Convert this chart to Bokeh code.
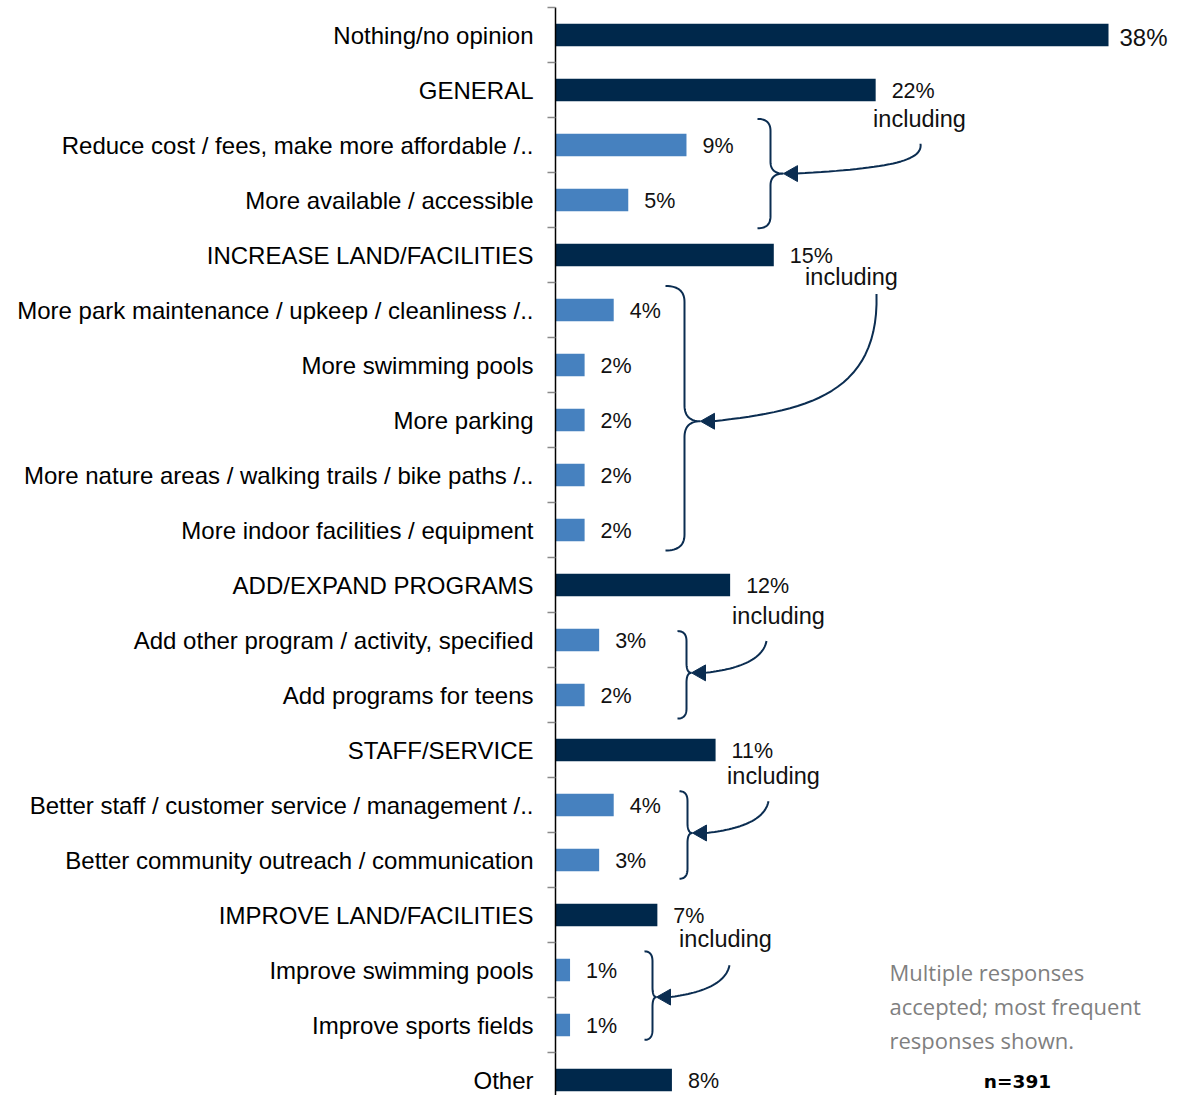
import numpy as np
from bokeh.plotting import figure
from bokeh.models import Range1d, FixedTicker
from bokeh.embed import file_html
from bokeh.resources import INLINE
from bokeh.core.properties import value

# ---------------- data ----------------
categories = [
    "Nothing/no opinion",
    "GENERAL",
    "Reduce cost / fees, make more affordable /..",
    "More available / accessible",
    "INCREASE LAND/FACILITIES",
    "More park maintenance / upkeep / cleanliness /..",
    "More swimming pools",
    "More parking",
    "More nature areas / walking trails / bike paths /..",
    "More indoor facilities / equipment",
    "ADD/EXPAND PROGRAMS",
    "Add other program / activity, specified",
    "Add programs for teens",
    "STAFF/SERVICE",
    "Better staff / customer service / management /..",
    "Better community outreach / communication",
    "IMPROVE LAND/FACILITIES",
    "Improve swimming pools",
    "Improve sports fields",
    "Other",
]
values = [38, 22, 9, 5, 15, 4, 2, 2, 2, 2, 12, 3, 2, 11, 4, 3, 7, 1, 1, 8]
levels = ["main", "main", "sub", "sub", "main", "sub", "sub", "sub", "sub", "sub",
          "main", "sub", "sub", "main", "sub", "sub", "main", "sub", "sub", "main"]
value_labels = [f"{v}%" for v in values]
group_text = "including"
note_lines = ["Multiple responses", "accepted; most frequent", "responses shown."]
sample_label = "n=391"

# ---------------- layout ----------------
DARK = "#00284B"
LIGHT = "#4681BF"
ANN = "#0B2D51"
AXIS_X = 555.0      # canvas x of the value axis
PX_PER = 14.553     # pixels per percentage point
TOP = 7             # frame top (canvas px)
ROW_H = 55.0        # pixels per category row
FIG_W, FIG_H = 1168, 1095
LEFT = int(AXIS_X)
# annotation positions below are measured in the reference's pixel grid
REF_TOP, REF_ROW = 8.0, 55.3


def dx(px):
    return (px - AXIS_X) / PX_PER


def dy(py):
    return (py - REF_TOP) / REF_ROW - 0.5


p = figure(width=FIG_W, height=FIG_H, output_backend="svg", toolbar_location=None,
           x_range=Range1d(0, (FIG_W - LEFT) / PX_PER),
           y_range=Range1d(-0.5 + (FIG_H - TOP) / ROW_H, -0.5),
           x_axis_location=None, min_border_left=LEFT, min_border_right=0,
           min_border_top=TOP, min_border_bottom=0)
p.outline_line_color = None
p.xgrid.visible = False
p.ygrid.visible = False

n = len(categories)
ys = list(range(n))
colors = [DARK if l == "main" else LIGHT for l in levels]
p.hbar(y=ys, right=values, left=0, height=0.41, fill_color=colors, line_color=None)

# value labels
big = [i for i in range(n) if values[i] == max(values)]
rest = [i for i in range(n) if i not in big]
p.text(x=[values[i] for i in rest], y=[ys[i] for i in rest], text=[value_labels[i] for i in rest],
       x_offset=16, y_offset=1, text_align="left", text_baseline="middle",
       text_font=value("Liberation Sans"), text_font_size="21.5px", text_color="#111111")
p.text(x=[values[i] for i in big], y=[ys[i] for i in big], text=[value_labels[i] for i in big],
       x_offset=11, y_offset=2, text_align="left", text_baseline="middle",
       text_font=value("Liberation Sans"), text_font_size="24px", text_color="#111111")

# axis
ax = p.yaxis[0]
ax.ticker = FixedTicker(ticks=ys, minor_ticks=[i - 0.5 for i in range(n + 1)])
ax.major_label_overrides = {i: c for i, c in enumerate(categories)}
ax.major_label_text_font = "Liberation Sans"
ax.major_label_text_font_size = "24px"
ax.major_label_text_color = "#000000"
ax.major_label_standoff = 14
ax.axis_line_color = "#000000"
ax.axis_line_width = 1.5
ax.major_tick_line_color = None
ax.major_tick_out = 0
ax.major_tick_in = 0
ax.minor_tick_line_color = "#8a8a8a"
ax.minor_tick_line_width = 1.5
ax.minor_tick_out = 8
ax.minor_tick_in = 0

# ---------------- braces + arrows ----------------
# (x_end, x_vert, x_cusp, y_top, y_mid, y_bot, radius)
braces = [
    (757, 770, 783, 120, 175, 230, 12),
    (665, 684, 700, 288, 424, 554, 16),
    (677, 686, 691, 635, 677, 723, 10),
    (679, 687, 692, 796, 838, 884, 10),
    (644, 652, 656, 957, 1003, 1046, 10),
]
# arrow bezier: P0, P1, P2, P3 (base of head); tip = brace cusp
arrows = [
    [(920, 145), (923, 164), (880, 170), (796, 175)],
    [(876, 296), (879, 400), (800, 414), (713, 424)],
    [(766, 645), (762, 666), (732, 674), (704, 677)],
    [(768, 806), (764, 827), (734, 835), (705, 838)],
    [(729, 971), (725, 992), (694, 1000), (669, 1003)],
]
including_pos = [(919, 120), (851, 279), (778, 620), (773, 781), (725, 945)]


def quad(p0, c, p1, k=16):
    t = np.linspace(0, 1, k)[:, None]
    a, b, d = np.array(p0), np.array(c), np.array(p1)
    return (1 - t) ** 2 * a + 2 * (1 - t) * t * b + t ** 2 * d


def cubic(p0, p1, p2, p3, k=30):
    t = np.linspace(0, 1, k)[:, None]
    a, b, c, d = map(np.array, (p0, p1, p2, p3))
    return (1 - t) ** 3 * a + 3 * (1 - t) ** 2 * t * b + 3 * (1 - t) * t ** 2 * c + t ** 3 * d


bx, by = [], []
for (xe, xv, xc, yt, ym, yb, r) in braces:
    pts = np.vstack([
        quad((xe, yt), (xv, yt), (xv, yt + r)),
        quad((xv, ym - r), (xv, ym), (xc, ym)),
        quad((xc, ym), (xv, ym), (xv, ym + r)),
        quad((xv, yb - r), (xv, yb), (xe, yb)),
    ])
    bx.append([dx(v) for v in pts[:, 0]])
    by.append([dy(v) for v in pts[:, 1]])
p.multi_line(bx, by, line_color=ANN, line_width=2)

ax_, ay_, hx, hy = [], [], [], []
for arr, br in zip(arrows, braces):
    pts = cubic(*arr)
    ax_.append([dx(v) for v in pts[:, 0]])
    ay_.append([dy(v) for v in pts[:, 1]])
    tipx, tipy = br[2], br[4]
    L, W = 14, 8
    hx.append([dx(tipx), dx(tipx + L), dx(tipx + L)])
    hy.append([dy(tipy), dy(tipy - W), dy(tipy + W)])
p.multi_line(ax_, ay_, line_color=ANN, line_width=2)
p.patches(hx, hy, fill_color=ANN, line_color=ANN)

p.text(x=[dx(a) for a, b in including_pos], y=[dy(b) for a, b in including_pos],
       text=[group_text] * len(including_pos), text_align="center", text_baseline="middle",
       text_font=value("Liberation Sans"), text_font_size="23.5px", text_color="#111111")

# note
note_y = [978, 1012, 1046]
p.text(x=[dx(889)] * 3, y=[dy(v) for v in note_y], text=note_lines, text_align="left",
       text_baseline="middle", text_font=value("Open Sans"), text_font_size="22px",
       text_color="#7F7F7F")
p.text(x=[dx(1017)], y=[dy(1088)], text=[sample_label], text_align="center",
       text_baseline="middle", text_font=value("DejaVu Sans"), text_font_style="bold",
       text_font_size="18.5px", text_color="#000000")

open("out.html", "w").write(file_html(p, INLINE))
